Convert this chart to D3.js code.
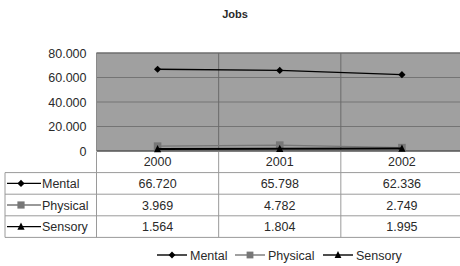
<!DOCTYPE html>
<html><head><meta charset="utf-8">
<script src="https://cdn.jsdelivr.net/npm/d3@7"></script>
<style>body{margin:0;background:#fff;}svg{display:block;font-family:"Liberation Sans",Arial,sans-serif;}</style>
</head><body>
<svg id="c" width="460" height="266"></svg>
<script>
const title = "Jobs";
const years = ["2000", "2001", "2002"];
const seriesNames = ["Mental", "Physical", "Sensory"];
const mental = [66720, 65798, 62336];
const physical = [3969, 4782, 2749];
const sensory = [1564, 1804, 1995];
const yTicks = [0, 20000, 40000, 60000, 80000];

(function () {
const series = [
  {name: seriesNames[0], values: mental, color: "#000", marker: "diamond", lw: 1.4},
  {name: seriesNames[1], values: physical, color: "#777", marker: "square", lw: 1.4},
  {name: seriesNames[2], values: sensory, color: "#000", marker: "triangle", lw: 2}
];

const loc = d3.formatLocale({decimal: ",", thousands: ".", grouping: [3], currency: ["", ""]});
const fmt = loc.format(",");
const fs = 12.5;

const svg = d3.select("#c");
const pL = 96.5, pR = 463, pT = 53, pB = 151;
const x = d3.scaleBand().domain(years).range([pL, pR]);
const y = d3.scaleLinear().domain([0, 80000]).range([pB, pT]);
const rowH = 21.6;
const tableTop = pB, tableLeft = 5;
const textCol = "#2a2a2a";
const tableLine = "#9a9a9a";

svg.append("text").attr("x", 235).attr("y", 18).attr("text-anchor", "middle")
  .attr("font-size", 11).attr("font-weight", "bold").attr("fill", textCol).text(title);

svg.append("rect").attr("x", pL).attr("y", pT).attr("width", pR - pL).attr("height", pB - pT)
  .attr("fill", "#a0a0a0");

svg.append("g").selectAll("line").data(yTicks).join("line")
  .attr("x1", pL).attr("x2", pR).attr("y1", d => y(d)).attr("y2", d => y(d))
  .attr("stroke", d => d === 0 ? "#555" : "#747474").attr("stroke-width", d => d === 0 ? 1.5 : 1);

const tableBottom = tableTop + rowH * 4;
const vx = [pL].concat(years.slice(1).map(d => x(d)));
svg.append("g").selectAll("line").data(vx).join("line")
  .attr("x1", d => d).attr("x2", d => d).attr("y1", pT).attr("y2", pB)
  .attr("stroke", (d, i) => i === 0 ? "#8a8a8a" : "#6a6a6a").attr("stroke-width", 1);
svg.append("g").selectAll("line").data(vx).join("line")
  .attr("x1", d => d).attr("x2", d => d).attr("y1", pB + 1).attr("y2", tableBottom)
  .attr("stroke", tableLine).attr("stroke-width", 1);

const yAxis = d3.axisLeft(y).tickValues(yTicks).tickFormat(d => fmt(d)).tickSize(0).tickPadding(10);
const ga = svg.append("g").attr("transform", `translate(${pL},0)`).call(yAxis);
ga.select(".domain").remove();
ga.selectAll("text").attr("font-size", fs).attr("fill", textCol).attr("font-family", "Liberation Sans, Arial, sans-serif");

svg.append("line").attr("x1", pL).attr("x2", pR).attr("y1", pT).attr("y2", pT)
  .attr("stroke", "#6a6a6a").attr("stroke-width", 1.2);

function drawMarker(g, type, cx, cy, color, s) {
  if (type === "diamond") {
    g.append("path").attr("d", `M${cx},${cy - s}L${cx + s},${cy}L${cx},${cy + s}L${cx - s},${cy}Z`).attr("fill", color);
  } else if (type === "square") {
    g.append("rect").attr("x", cx - s).attr("y", cy - s).attr("width", 2 * s).attr("height", 2 * s).attr("fill", color);
  } else {
    g.append("path").attr("d", `M${cx},${cy - s - 0.5}L${cx + s},${cy + s - 0.5}L${cx - s},${cy + s - 0.5}Z`).attr("fill", color);
  }
}

const line = d3.line().x((d, i) => x(years[i]) + x.bandwidth() / 2).y(d => y(d));
const gs = svg.append("g");
[1, 2, 0].forEach(k => {
  const s = series[k];
  gs.append("path").datum(s.values).attr("d", line).attr("fill", "none")
    .attr("stroke", s.color).attr("stroke-width", s.lw);
  s.values.forEach((v, i) => drawMarker(gs, s.marker, x(years[i]) + x.bandwidth() / 2, y(v), s.color, k === 1 ? 3.8 : 3.6));
});

const hl = [1, 2, 3, 4].map(i => tableTop + rowH * i);
svg.append("g").selectAll("line").data(hl).join("line")
  .attr("x1", tableLeft).attr("x2", 460).attr("y1", d => d).attr("y2", d => d)
  .attr("stroke", tableLine).attr("stroke-width", 1);
svg.append("line").attr("x1", tableLeft).attr("x2", tableLeft).attr("y1", tableTop + rowH).attr("y2", tableBottom)
  .attr("stroke", tableLine);

svg.append("g").selectAll("text").data(years).join("text")
  .attr("x", d => x(d) + x.bandwidth() / 2).attr("y", tableTop + rowH / 2 + 4.5)
  .attr("text-anchor", "middle").attr("font-size", fs).attr("fill", textCol).text(d => d);

series.forEach((s, r) => {
  const cy = tableTop + rowH * (r + 1) + rowH / 2;
  const g = svg.append("g");
  g.append("line").attr("x1", 7).attr("x2", 41).attr("y1", cy).attr("y2", cy)
    .attr("stroke", s.color).attr("stroke-width", 1.4);
  drawMarker(g, s.marker, 21, cy, s.color, 3.6);
  g.append("text").attr("x", 42).attr("y", cy + 4.5).attr("font-size", fs).attr("fill", textCol).text(s.name);
  g.selectAll("text.v").data(s.values).join("text").attr("class", "v")
    .attr("x", (d, i) => x(years[i]) + x.bandwidth() / 2).attr("y", cy + 4.5)
    .attr("text-anchor", "middle").attr("font-size", fs).attr("fill", textCol).text(d => fmt(d));
});

const legX = [157, 235, 323];
series.forEach((s, i) => {
  const g = svg.append("g");
  const ly = 255;
  g.append("line").attr("x1", legX[i]).attr("x2", legX[i] + 30).attr("y1", ly).attr("y2", ly)
    .attr("stroke", s.color).attr("stroke-width", 1.4);
  drawMarker(g, s.marker, legX[i] + 15, ly, s.color, 3.4);
  g.append("text").attr("x", legX[i] + 33).attr("y", ly + 4.5).attr("font-size", fs).attr("fill", textCol).text(s.name);
});
})();
</script>
</body></html>
